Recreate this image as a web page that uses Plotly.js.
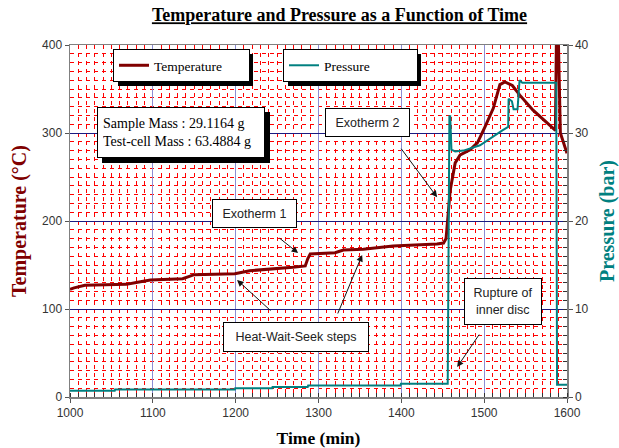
<!DOCTYPE html>
<html>
<head>
<meta charset="utf-8">
<script src="https://cdn.plot.ly/plotly-3.0.1.min.js"></script>
<style>html,body{margin:0;padding:0;background:#fff}#chart{width:619px;height:448px}</style>
</head>
<body>
<div id="chart"></div>
<script>
// ---- data ----
const timeT = [1000, 1005, 1018, 1068, 1080, 1097, 1136, 1150, 1199, 1217, 1269, 1284, 1287, 1290, 1320, 1330, 1354, 1390, 1443, 1451, 1454, 1456, 1459, 1465, 1471, 1483, 1492, 1501, 1511, 1519, 1525, 1534, 1543, 1559, 1576, 1586, 1587.5, 1589, 1592, 1600];
const temperature = [122.5, 124, 127, 128, 130, 133, 134.5, 139, 140, 143.5, 147.5, 149, 157, 162.5, 164, 167, 168, 171.5, 174, 175, 180, 205, 235, 266, 275, 281, 289, 307, 328, 355, 358, 354, 343, 326, 311, 303, 430, 430, 300, 277];

const timeP = [1000, 1054, 1054.5, 1199, 1199.5, 1244, 1244.5, 1287, 1287.5, 1399, 1399.5, 1456, 1458, 1459, 1460.5, 1465, 1475, 1495, 1522, 1529, 1529.5, 1533.5, 1535.5, 1540.3, 1542.7, 1546, 1587, 1588, 1600];
const pressure = [0.7, 0.7, 0.85, 0.85, 1.0, 1.0, 1.15, 1.15, 1.3, 1.3, 1.5, 1.5, 31.9, 31.9, 28.1, 27.9, 28.0, 28.6, 30.3, 30.7, 33.9, 33.6, 32.7, 32.7, 36, 35.7, 35.7, 1.4, 1.4];

const xTicks = [1000, 1100, 1200, 1300, 1400, 1500, 1600];
const yTicks = [0, 100, 200, 300, 400];
const y2Ticks = [0, 10, 20, 30, 40];

const titleText = 'Temperature and Pressure as a Function of Time';
const massText = 'Sample Mass : 29.1164 g<br>Test-cell Mass : 63.4884 g';

// ---- geometry helpers (plot area in pixels) ----
const W = 619, H = 448;
const M = {l: 70, r: 52, t: 45, b: 51};
const PW = W - M.l - M.r, PH = H - M.t - M.b;
const px = x => (x - M.l) / PW;
const py = y => (H - M.b - y) / PH;

const serif = 'Liberation Serif, Times New Roman, serif';
const sans = 'Liberation Sans, Arial, sans-serif';

const traces = [
  {x: timeT, y: temperature, name: 'Temperature', type: 'scatter', mode: 'lines',
   line: {color: '#800000', width: 3}, legend: 'legend'},
  {x: timeP, y: pressure, name: 'Pressure', type: 'scatter', mode: 'lines',
   line: {color: '#008080', width: 2}, yaxis: 'y2', legend: 'legend2'}
];

function shadow(x0, y0, x1, y1) {
  return {type: 'rect', xref: 'paper', yref: 'paper', x0: px(x0), x1: px(x1), y0: py(y1), y1: py(y0),
          fillcolor: '#000', line: {width: 0}, layer: 'above'};
}

function box(text, left, top, w, h, font, align, pad) {
  pad = pad || 0;
  return {xref: 'paper', yref: 'paper', x: px(left), y: py(top), xanchor: 'left', yanchor: 'top',
          text: text, showarrow: false, align: align || 'center', valign: 'middle',
          width: w - 2 - 2 * pad, height: h - 2 - 2 * pad, borderpad: pad, bgcolor: '#fff', bordercolor: '#000', borderwidth: 1,
          font: font};
}

function arrow(x, y, ax, ay) {
  return {x: x, y: y, xref: 'x', yref: 'y', ax: ax, ay: ay, text: '', showarrow: true,
          arrowhead: 2, arrowsize: 1.3, arrowwidth: 1, arrowcolor: '#111', standoff: 0};
}

const labFont = {family: sans, size: 12.5, color: '#222'};
const legFont = {family: serif, size: 13.5, color: '#000'};

const layout = {
  width: W, height: H,
  margin: M,
  paper_bgcolor: '#fff', plot_bgcolor: '#fff',
  showlegend: true,
  title: {text: '<b><u>' + titleText + '</u></b>', x: 339.5 / W, xref: 'container', xanchor: 'center',
          y: 1 - 15 / H, yref: 'container', yanchor: 'middle',
          font: {family: serif, size: 18, color: '#000'}},
  xaxis: {range: [1000, 1600], tickvals: xTicks, ticktext: xTicks.map(String),
          showgrid: true, gridcolor: '#8c8cd4', gridwidth: 1,
          showline: true, linecolor: '#808080', linewidth: 1.5, mirror: true,
          ticks: 'outside', ticklen: 4, tickcolor: '#555',
          minor: {dtick: 10, tick0: 1000, ticks: 'inside', ticklen: 4, tickcolor: '#333',
                  showgrid: true, gridcolor: '#ff0000', griddash: '4px,4px', gridwidth: 1},
          zeroline: false, tickfont: {family: sans, size: 12, color: '#333'},
          title: {text: '<b>Time (min)</b>', font: {family: serif, size: 17.5, color: '#000'}, standoff: 16}},
  yaxis: {range: [0, 400], tickvals: yTicks, ticktext: yTicks.map(String),
          showgrid: true, gridcolor: '#1a1a80', gridwidth: 1,
          showline: true, linecolor: '#808080', linewidth: 1.5,
          ticks: 'outside', ticklen: 4, tickcolor: '#555',
          minor: {dtick: 10, tick0: 0, ticks: '', showgrid: true, gridcolor: '#ff0000', griddash: '4px,4px', gridwidth: 1},
          zeroline: false, tickfont: {family: sans, size: 12, color: '#333'},
          title: {text: '<b>Temperature (°C)</b>', font: {family: serif, size: 20, color: '#800000'}, standoff: 10}},
  yaxis2: {range: [0, 40], tickvals: y2Ticks, ticktext: y2Ticks.map(String), overlaying: 'y', side: 'right',
           showgrid: false, showline: true, linecolor: '#808080', linewidth: 1.5,
           ticks: 'outside', ticklen: 4, tickcolor: '#555',
           minor: {dtick: 1, tick0: 0, ticks: 'inside', ticklen: 4, tickcolor: '#333', showgrid: false},
           zeroline: false, tickfont: {family: sans, size: 12, color: '#333'},
           title: {text: '<b>Pressure (bar)</b>', font: {family: serif, size: 20, color: '#008080'}, standoff: 12}},
  legend: {x: px(113), y: py(49), xanchor: 'left', yanchor: 'top', orientation: 'h',
           bgcolor: '#fff', bordercolor: '#000', borderwidth: 1, entrywidth: 90, font: legFont},
  legend2: {x: px(283), y: py(49), xanchor: 'left', yanchor: 'top', orientation: 'h',
            bgcolor: '#fff', bordercolor: '#000', borderwidth: 1, entrywidth: 88, font: legFont},
  shapes: [
    shadow(118, 54, 253, 86),
    shadow(288, 54, 421, 86),
    shadow(102, 112, 270, 163)
  ],
  annotations: [
    box(massText, 97, 107, 168, 51, {family: serif, size: 14, color: '#000'}, 'left', 5),
    box('Exotherm 2', 325, 108, 85, 29, labFont),
    box('Exotherm 1', 212, 199, 85, 29, labFont),
    box('Heat-Wait-Seek steps', 223, 322, 146, 30, labFont),
    box('Rupture of<br>inner disc', 464, 278, 78, 47, labFont),
    arrow(1275.4, 163.6, -20, -16),
    arrow(1201.7, 133, 35, 32),
    arrow(1352.7, 161.4, -25, 60),
    arrow(1443.2, 227, -37, -50),
    arrow(1467.4, 34, 23, -34)
  ]
};

Plotly.newPlot('chart', traces, layout, {displayModeBar: false, staticPlot: true});
</script>
</body>
</html>
